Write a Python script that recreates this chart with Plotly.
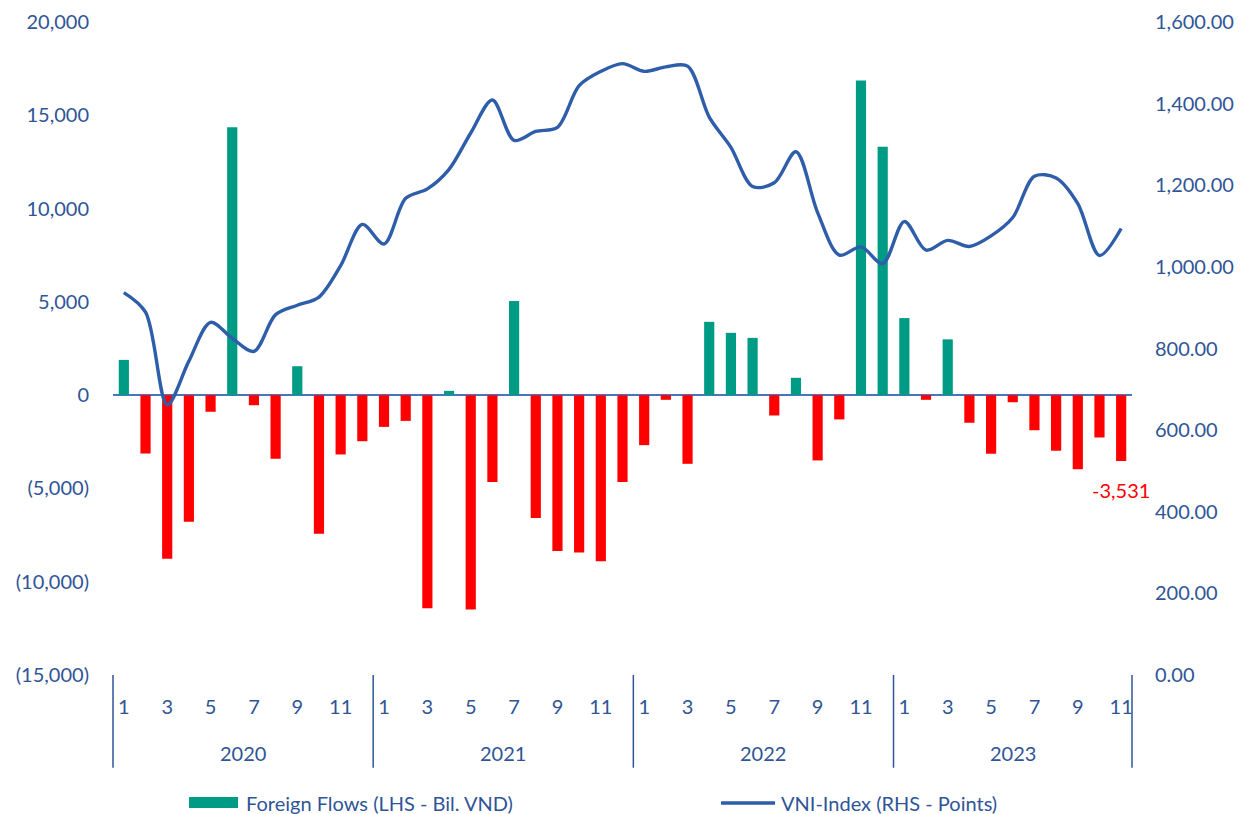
import plotly.graph_objects as go

# ---------------- data ----------------
years = ["2020", "2021", "2022", "2023"]
months_per_year = [12, 12, 12, 11]

# Net foreign flows, bil. VND (LHS)
flows_2020 = [1890, -3130, -8770, -6790, -890, 14360, -540, -3410, 1550, -7430, -3180, -2470]
flows_2021 = [-1700, -1380, -11420, 230, -11490, -4650, 5040, -6580, -8360, -8430, -8900, -4660]
flows_2022 = [-2680, -250, -3680, 3930, 3340, 3070, -1090, 930, -3500, -1300, 16870, 13310]
flows_2023 = [4130, -250, 2990, -1480, -3140, -380, -1880, -2980, -3970, -2270, -3531]

# VNI-Index, points (RHS)
vni_2020 = [937, 889, 662, 769, 864, 825, 793, 883, 906, 926, 1003, 1104]
vni_2021 = [1056, 1168, 1191, 1239, 1328, 1409, 1310, 1332, 1342, 1444, 1479, 1498]
vni_2022 = [1479, 1490, 1492, 1367, 1293, 1197, 1206, 1282, 1133, 1029, 1049, 1008]
vni_2023 = [1111, 1041, 1065, 1050, 1076, 1121, 1222, 1218, 1155, 1028, 1094]

left_ticks = [-15000, -10000, -5000, 0, 5000, 10000, 15000, 20000]
right_ticks = [0, 200, 400, 600, 800, 1000, 1200, 1400, 1600]

flows = flows_2020 + flows_2021 + flows_2022 + flows_2023
vni = vni_2020 + vni_2021 + vni_2022 + vni_2023
month_num = [m + 1 for n in months_per_year for m in range(n)]
x = list(range(len(flows)))

# ---------------- styles ----------------
FONT = "Lato"
TXT = "#2F5597"
LINE = "#2E5DA9"
GREEN = "#009B84"
RED = "#FF0000"
FS = 20

def fmt_left(v):
    return f"({abs(v):,})" if v < 0 else f"{v:,}"

bar_colors = [GREEN if v >= 0 else RED for v in flows]

fig = go.Figure()
fig.add_trace(go.Bar(
    x=x, y=flows, name="Foreign Flows (LHS - Bil. VND)",
    marker=dict(color=bar_colors, line=dict(width=0)),
    width=0.47, yaxis="y", hoverinfo="x+y",
))
fig.add_trace(go.Scatter(
    x=x, y=vni, name="VNI-Index (RHS - Points)", mode="lines",
    line=dict(color=LINE, width=3.4, shape="spline", smoothing=0.9),
    yaxis="y2",
))

tick_idx = [i for i in x if month_num[i] % 2 == 1]

fig.update_layout(
    width=1243, height=814,
    margin=dict(l=113, r=111, t=22, b=139, autoexpand=False),
    paper_bgcolor="white", plot_bgcolor="white",
    showlegend=False,
    font=dict(family=FONT, size=FS, color=TXT),
    xaxis=dict(
        range=[-0.5, len(x) - 0.5], automargin=False,
        tickvals=tick_idx, ticktext=[str(month_num[i]) for i in tick_idx],
        showgrid=False, zeroline=False, showline=False, ticks="",
        ticklabelstandoff=18,
        tickfont=dict(family=FONT, size=FS, color=TXT),
    ),
    yaxis=dict(
        range=[-15000, 20000], automargin=False,
        tickvals=left_ticks, ticktext=[fmt_left(v) for v in left_ticks],
        showgrid=False, zeroline=True, zerolinecolor="#4A74C0", zerolinewidth=1.6,
        showline=False, ticks="", ticklabelstandoff=23,
        tickfont=dict(family=FONT, size=FS, color=TXT),
    ),
    yaxis2=dict(
        range=[0, 1600], overlaying="y", side="right", automargin=False,
        tickvals=right_ticks, tickformat=",.2f",
        showgrid=False, zeroline=False, showline=False, ticks="",
        ticklabelstandoff=22,
        tickfont=dict(family=FONT, size=20, color=TXT),
    ),
)

# year separators and labels (multi-level category axis)
n = len(x)
bounds = [-0.5]
for m in months_per_year:
    bounds.append(bounds[-1] + m)
for b in bounds:
    xp = (b + 0.5) / n
    fig.add_shape(type="line", xref="paper", yref="paper",
                  x0=xp, x1=xp, y0=0, y1=-0.142,
                  line=dict(color=TXT, width=1.5))
for yr, b0, b1 in zip(years, bounds[:-1], bounds[1:]):
    fig.add_annotation(x=(b0 + b1) / 2, xref="x", y=-0.1194, yref="paper",
                       text=yr, showarrow=False, yanchor="middle",
                       font=dict(family=FONT, size=FS, color=TXT))

# data label on last bar
fig.add_annotation(x=x[-1], y=flows[-1], xref="x", yref="y",
                   text=f"{flows[-1]:,}", showarrow=False,
                   yanchor="middle", yshift=-29,
                   font=dict(family=FONT, size=FS, color=RED))

# legend (drawn below the axis)
fig.add_shape(type="rect", xref="paper", yref="paper",
              x0=0.0746, x1=0.1227, y0=-0.2037, y1=-0.1868,
              fillcolor=GREEN, line=dict(width=0))
fig.add_annotation(x=0.1286, y=-0.196, xref="paper", yref="paper",
                   text="Foreign Flows (LHS - Bil. VND)", showarrow=False,
                   xanchor="left", yanchor="middle",
                   font=dict(family=FONT, size=FS, color=TXT))
fig.add_shape(type="line", xref="paper", yref="paper",
              x0=0.5967, x1=0.6497, y0=-0.196, y1=-0.196,
              line=dict(color=LINE, width=3.4))
fig.add_annotation(x=0.6536, y=-0.196, xref="paper", yref="paper",
                   text="VNI-Index (RHS - Points)", showarrow=False,
                   xanchor="left", yanchor="middle",
                   font=dict(family=FONT, size=FS, color=TXT))

fig.write_html(
    "out.html",
    config={"displayModeBar": False},
    post_script="document.body.style.margin='0';document.body.style.overflow='hidden';",
)
